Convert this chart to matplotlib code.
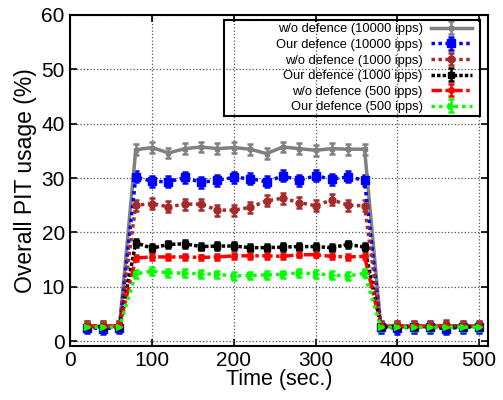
import numpy as np
import matplotlib.pyplot as plt
from matplotlib.patches import Rectangle

plt.rcParams['font.family'] = ['Liberation Sans', 'DejaVu Sans']

# time points (sec.)
time = [20, 40, 60, 80, 100, 120, 140, 160, 180, 200, 220, 240, 260, 280, 300,
        320, 340, 360, 380, 400, 420, 440, 460, 480, 500]

# overall PIT usage (%)
wo_10000 = [2.7, 2.7, 2.7, 35.2, 35.6, 34.6, 35.4, 35.7, 35.4, 35.6, 35.3, 34.5, 35.7,
            35.4, 35.1, 35.4, 35.3, 35.3, 2.7, 2.7, 2.7, 2.7, 2.7, 2.7, 2.7]
our_10000 = [2.5, 2.3, 2.5, 30.2, 29.4, 29.3, 30.1, 29.2, 29.6, 30.1, 29.9, 29.3, 30.4,
             29.6, 30.4, 29.8, 30.2, 29.6, 2.6, 2.4, 2.6, 2.6, 2.3, 2.6, 2.6]
wo_1000 = [2.8, 2.8, 2.8, 25.0, 25.3, 24.7, 25.2, 25.2, 24.1, 24.1, 24.6, 25.8, 26.3,
           25.5, 24.9, 26.0, 25.0, 24.9, 2.8, 2.8, 2.8, 2.8, 2.9, 2.8, 2.8]
our_1000 = [2.7, 2.7, 2.7, 18.1, 17.1, 17.8, 17.9, 17.4, 17.5, 17.5, 17.2, 17.2, 17.3,
            17.4, 17.4, 17.2, 17.8, 17.3, 2.7, 2.7, 2.7, 2.7, 2.7, 2.7, 2.7]
wo_500 = [2.8, 2.8, 2.8, 15.3, 15.5, 15.5, 15.5, 15.4, 15.5, 15.7, 15.7, 15.7, 15.6,
          15.9, 15.9, 15.6, 15.5, 15.6, 2.8, 2.8, 2.8, 2.8, 2.8, 2.8, 2.8]
our_500 = [2.6, 2.6, 2.6, 12.4, 12.9, 12.6, 12.5, 12.4, 12.3, 12.0, 12.1, 12.2, 12.3,
           12.6, 12.4, 12.2, 12.0, 12.5, 2.6, 2.6, 2.6, 2.6, 2.6, 2.6, 2.6]

# error bar half widths
err_wo_10000 = 1.0
err_our_10000 = 1.0
err_wo_1000 = 1.0
err_our_1000 = 0.7
err_wo_500 = 0.5
err_our_500 = 0.7

labels = ['w/o defence (10000 ipps)', 'Our defence (10000 ipps)',
          'w/o defence (1000 ipps)', 'Our defence (1000 ipps)',
          'w/o defence (500 ipps)', 'Our defence (500 ipps)']

fig = plt.figure(figsize=(5.03, 4.0), dpi=100)
ax = fig.add_axes([0.14, 0.136, 0.83, 0.827])

series = [
    (wo_10000, err_wo_10000, dict(color='#808080', ls='-', lw=2.5, marker='s', ms=3)),
    (our_10000, err_our_10000, dict(color='#0000ff', ls=(0, (1, 1)), lw=2.5, marker='s', ms=5.5)),
    (wo_1000, err_wo_1000, dict(color='#a52a2a', ls=(0, (1, 1)), lw=2.5, marker='o', ms=5)),
    (our_1000, err_our_1000, dict(color='#000000', ls=(0, (1, 0.6)), lw=2.5, marker='s', ms=4.5)),
    (wo_500, err_wo_500, dict(color='#ff0000', ls=(0, (3, 1, 1, 1)), lw=2.5, marker='o', ms=4)),
    (our_500, err_our_500, dict(color='#00ff00', ls=(0, (1, 1.2)), lw=2.5, marker='>', ms=4.5)),
]

for (vals, err, style), lab in zip(series, labels):
    ax.errorbar(time, vals, yerr=err, capsize=2.5, elinewidth=1.8, capthick=1.8,
                label=lab, **style)

ax.set_xlim(0, 511)
ax.set_ylim(-0.8, 60)
ax.set_xticks([0, 100, 200, 300, 400, 500])
ax.set_yticks([0, 10, 20, 30, 40, 50, 60])
ax.grid(True, ls=':', color='#555555', lw=0.9)
ax.tick_params(direction='in', top=True, right=True, labelsize=15, length=5, width=1.2,
               pad=4)
for s in ax.spines.values():
    s.set_linewidth(1.5)
ax.set_xlabel('Time (sec.)', fontsize=15.5, labelpad=-1)
ax.set_ylabel('Overall PIT usage (%)', fontsize=16.5, labelpad=3)

# gnuplot-style key: text right aligned, samples on the right, box drawn separately
leg = ax.legend(loc='upper right', bbox_to_anchor=(0.962, 0.974), fontsize=9.3,
                markerfirst=False, frameon=False, handlelength=3.2,
                borderpad=0, labelspacing=0.27, handletextpad=0.62, borderaxespad=0)
for col in leg._legend_handle_box.get_children():
    col.align = 'right'
ax.add_patch(Rectangle((0.368, 0.695), 0.613, 0.29, transform=ax.transAxes,
                       fill=False, edgecolor='black', lw=1.5, zorder=6))

fig.savefig('out.png', dpi=100)
